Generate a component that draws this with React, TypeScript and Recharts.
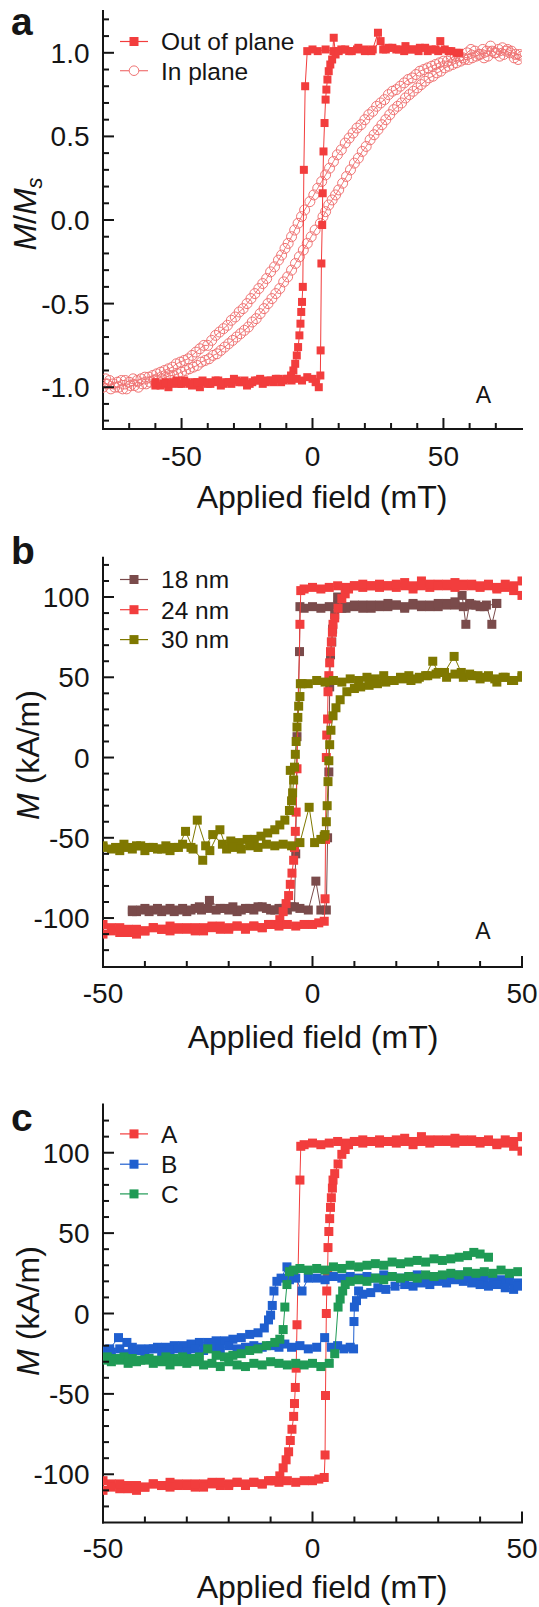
import React from 'react';
import { ScatterChart, Scatter, XAxis, YAxis, ReferenceDot } from 'recharts';

const FONT = '"Liberation Sans", Arial, Helvetica, sans-serif';
const INK = '#151515';
const RED = '#f23d3d';
const PINK = '#f07474';
const BROWN = '#7a4b4b';
const OLIVE = '#7f7800';
const BLUE = '#1f5fcf';
const GREEN = '#1f9a55';

const TICK_FS = 28;
const TITLE_FS = 32;
const LEGEND_FS = 24.5;

type Pt = [number, number];

// ---------- tick values ----------
const aFieldTicks = [-70, -60, -50, -40, -30, -20, -10, 0, 10, 20, 30, 40, 50, 60, 70];
const aFieldLabels = [-50, 0, 50];
const aMTicks = [-1.2, -1.1, -1, -0.9, -0.8, -0.7, -0.6, -0.5, -0.4, -0.3, -0.2, -0.1, 0, 0.1, 0.2, 0.3, 0.4, 0.5, 0.6, 0.7, 0.8, 0.9, 1, 1.1, 1.2];
const aMLabels = [-1, -0.5, 0, 0.5, 1];
const bcFieldTicks = [-50, -40, -30, -20, -10, 0, 10, 20, 30, 40, 50];
const bcFieldLabels = [-50, 0, 50];
const bcMTicks = [-120, -110, -100, -90, -80, -70, -60, -50, -40, -30, -20, -10, 0, 10, 20, 30, 40, 50, 60, 70, 80, 90, 100, 110, 120];
const bcMLabels = [-100, -50, 0, 50, 100];

// ---------- panel a : out of plane (descending then ascending) ----------
const oopDown: Pt[] = [
  [55, 1.0], [52, 1.01], [48.8, 1.07], [47, 1.02], [44, 1.01], [41, 1.03], [38, 1.02], [35, 1.01], [32, 1.02], [29, 1.03],
  [27, 1.02], [25, 1.12], [23, 1.02], [20, 1.01], [17, 1.02], [14, 1.01], [11, 1.02], [8, 1.01], [5, 1.02], [2, 1.01],
  [0, 1.02], [-2, 1.01], [-2.8, 0.8], [-3.3, 0.3], [-3.7, -0.4], [-4.0, -0.49], [-4.3, -0.55], [-4.6, -0.62], [-5.0, -0.69],
  [-5.5, -0.76], [-6.0, -0.81], [-6.6, -0.86], [-7.3, -0.9], [-8.2, -0.93], [-9.5, -0.95], [-11, -0.96], [-13, -0.95],
  [-15, -0.97], [-17, -0.96], [-19, -0.98], [-21, -0.96], [-23, -0.97], [-25, -0.99], [-27, -0.97], [-29, -0.96],
  [-31, -0.98], [-33, -0.97], [-35, -0.99], [-37, -0.96], [-39, -0.98], [-41, -0.97], [-43, -1.0], [-45, -0.97],
  [-47, -0.98], [-49, -0.96], [-51, -0.98], [-53, -0.97], [-55, -1.0], [-57, -0.98], [-60, -0.99],
];
const oopUp: Pt[] = [
  [-60, -0.97], [-58, -0.99], [-56, -0.97], [-54, -0.98], [-52, -0.96], [-50, -0.98], [-48, -0.97], [-46, -0.99],
  [-44, -0.97], [-42, -0.96], [-40, -0.98], [-38, -0.97], [-36, -0.96], [-34, -0.98], [-32, -0.97], [-30, -0.95],
  [-28, -0.97], [-26, -0.96], [-24, -0.98], [-22, -0.96], [-20, -0.95], [-18, -0.97], [-16, -0.96], [-14, -0.95],
  [-12, -0.97], [-10, -0.95], [-8, -0.96], [-6, -0.95], [-4, -0.96], [-2, -0.94], [0, -0.95], [1.2, -0.97], [2.4, -1.0],
  [3.0, -0.93], [3.1, -0.78], [3.4, -0.26], [3.7, -0.03], [3.9, 0.16], [4.2, 0.41], [4.6, 0.58], [5.0, 0.72], [5.3, 0.78],
  [5.7, 0.84], [6.2, 0.89], [6.8, 0.93], [7.5, 0.96], [8.1, 1.09], [8.8, 0.99], [10, 1.01], [12.5, 1.02], [15, 1.01],
  [17.5, 1.03], [20, 1.02], [22.5, 1.01], [26, 1.07], [28, 1.02], [30.5, 1.03], [33, 1.02], [35.5, 1.04], [38, 1.02],
  [40.5, 1.01], [43, 1.03], [45.5, 1.02], [48, 1.01], [50.5, 1.02], [53, 1.01], [56, 1.0],
];
// ---------- panel a : in plane ----------
const ipDown: Pt[] = [
  [80, 0.98], [78.5, 0.96], [77, 0.97], [75.5, 1.0], [74, 1.01], [72.5, 1.03], [71, 1.02], [69.5, 1.0], [68, 1.04],
  [66.5, 1.01], [65, 1.02], [63.5, 0.99], [62, 1.01], [60.5, 1.02], [59, 1.0], [57.5, 0.97], [56, 0.98], [54.5, 0.98],
  [53, 0.97], [51.5, 0.95], [50, 0.95], [48.5, 0.94], [47, 0.93], [45.5, 0.92], [44, 0.91], [42.5, 0.9], [41, 0.89],
  [39.5, 0.87], [38, 0.85], [36.5, 0.84], [35, 0.82], [33.5, 0.8], [32, 0.78], [30.5, 0.77], [29, 0.75], [27.5, 0.72],
  [26, 0.7], [24.5, 0.68], [23, 0.65], [21.5, 0.63], [20, 0.6], [18.5, 0.57], [17, 0.55], [15.5, 0.52], [14, 0.49],
  [12.5, 0.46], [11, 0.42], [9.5, 0.39], [8, 0.35], [6.5, 0.31], [5, 0.27], [3.5, 0.23], [2, 0.19], [0.5, 0.15],
  [-1, 0.11], [-3, 0.06], [-4.2, 0.02], [-5.5, -0.02], [-6.8, -0.06], [-8, -0.1], [-9.3, -0.14], [-10.5, -0.17],
  [-11.8, -0.21], [-13, -0.24], [-14.5, -0.28], [-16, -0.31], [-17.5, -0.35], [-19, -0.38], [-20.5, -0.41], [-22, -0.44],
  [-23.5, -0.47], [-25, -0.5], [-26.5, -0.53], [-28, -0.55], [-29.5, -0.58], [-31, -0.6], [-32.5, -0.63], [-34, -0.65],
  [-35.5, -0.67], [-37, -0.69], [-38.5, -0.72], [-40, -0.75], [-41.5, -0.75], [-43, -0.77], [-44.5, -0.79], [-46, -0.81],
  [-47.5, -0.83], [-49, -0.84], [-50.5, -0.85], [-52, -0.86], [-53.5, -0.88], [-55, -0.89], [-56.5, -0.9], [-58, -0.91],
  [-59.5, -0.92], [-61, -0.93], [-62.5, -0.94], [-64, -0.94], [-65.5, -0.95], [-67, -0.96], [-68.5, -0.95], [-70, -0.97],
  [-71.5, -0.96], [-73, -0.96], [-74.5, -0.97], [-76, -0.98], [-77.5, -0.96], [-79, -0.95],
];
const ipUp: Pt[] = [
  [-80, -1.0], [-78.5, -0.98], [-77, -1.01], [-75.5, -1.0], [-74, -1.0], [-72.5, -1.01], [-71, -1.01], [-69.5, -0.99],
  [-68, -0.99], [-66.5, -1.0], [-65, -0.98], [-63.5, -0.98], [-62, -0.97], [-60.5, -0.96], [-59, -0.96], [-57.5, -0.95],
  [-56, -0.94], [-54.5, -0.93], [-53, -0.93], [-51.5, -0.92], [-50, -0.91], [-48.5, -0.9], [-47, -0.89], [-45.5, -0.88],
  [-44, -0.87], [-42.5, -0.85], [-41, -0.84], [-39.5, -0.83], [-38, -0.81], [-36.5, -0.8], [-35, -0.78], [-33.5, -0.76],
  [-32, -0.74], [-30.5, -0.72], [-29, -0.7], [-27.5, -0.68], [-26, -0.66], [-24.5, -0.64], [-23, -0.61], [-21.5, -0.59],
  [-20, -0.56], [-18.5, -0.53], [-17, -0.5], [-15.5, -0.47], [-14, -0.44], [-12.5, -0.41], [-11, -0.37], [-9.5, -0.34],
  [-8, -0.3], [-6.5, -0.26], [-5, -0.22], [-3.5, -0.18], [-2, -0.14], [-0.5, -0.1], [1, -0.06], [3, -0.02], [4, 0.02],
  [5, 0.05], [6.2, 0.09], [7.5, 0.12], [8.8, 0.15], [10, 0.18], [11.5, 0.22], [13, 0.26], [14.5, 0.3], [16, 0.34],
  [17.5, 0.37], [19, 0.41], [20.5, 0.44], [22, 0.48], [23.5, 0.51], [25, 0.54], [26.5, 0.57], [28, 0.6], [29.5, 0.63],
  [31, 0.66], [32.5, 0.68], [34, 0.7], [35.5, 0.73], [37, 0.75], [38.5, 0.77], [40, 0.79], [41.5, 0.81], [43, 0.83],
  [44.5, 0.85], [46, 0.86], [47.5, 0.88], [49, 0.89], [50.5, 0.91], [52, 0.92], [53.5, 0.93], [55, 0.94], [56.5, 0.95],
  [58, 0.96], [59.5, 0.96], [61, 0.97], [62.5, 0.98], [64, 0.99], [65.5, 0.97], [67, 0.98], [68.5, 1.01], [70, 1.0],
  [71.5, 0.98], [73, 0.99], [74.5, 1.02], [76, 1.01], [77.5, 0.99], [79, 0.99],
];

// ---------- sample A, 24 nm (panel b red, panel c "A") ----------
const a24Down: Pt[] = [
  [50, 101], [48, 104], [46, 106], [44, 105], [42, 107], [40, 106], [38, 107], [36, 108], [34, 106], [32, 107], [30, 108],
  [28, 106], [26, 107], [24, 105], [22, 107], [20, 106], [18, 107], [16, 106], [14, 107], [12, 106], [10, 107], [8, 106],
  [6, 107], [4, 106], [2, 105], [0, 106], [-2, 105], [-2.8, 104], [-3.0, 83], [-3.7, -7], [-3.9, -34], [-4.1, -46],
  [-4.3, -56], [-4.5, -64], [-4.9, -72], [-5.3, -79], [-5.7, -86], [-6.3, -91], [-7.0, -96], [-7.8, -101], [-9, -104],
  [-10.5, -104], [-12, -106], [-14, -105], [-16, -107], [-18, -105], [-20, -106], [-22, -107], [-24, -105], [-26, -106],
  [-28, -108], [-30, -106], [-32, -107], [-34, -105], [-36, -107], [-38, -106], [-40, -108], [-42, -110], [-44, -107],
  [-46, -109], [-48, -106], [-50, -110],
];
const a24Up: Pt[] = [
  [-50, -104], [-48, -108], [-46, -106], [-44, -109], [-42, -107], [-40, -108], [-38, -106], [-36, -107], [-34, -108],
  [-32, -106], [-30, -107], [-28, -106], [-26, -108], [-24, -106], [-22, -105], [-20, -107], [-18, -105], [-16, -106],
  [-14, -105], [-12, -106], [-10, -104], [-8, -105], [-6, -104], [-4, -105], [-2, -104], [0, -104], [1.5, -103],
  [2.8, -102], [3.0, -88], [3.1, -51], [3.3, 0], [3.4, 14], [3.6, 24], [3.7, 41], [3.9, 51], [4.1, 59], [4.3, 66],
  [4.5, 72], [4.75, 78], [4.9, 83], [5.3, 87], [6.1, 93], [7.0, 99], [7.8, 102], [8.6, 105], [10, 107], [12, 108],
  [14, 107], [16, 108], [18, 107], [20, 108], [22, 109], [24, 107], [26, 110], [28, 108], [30, 107], [32, 108], [34, 109],
  [36, 107], [38, 108], [40, 107], [42, 108], [44, 106], [46, 108], [48, 107], [50, 110],
];
// ---------- panel b : 18 nm ----------
const b18Down: Pt[] = [
  [44, 96], [42.8, 83], [41.5, 95], [40, 94], [38, 95], [36, 94], [34, 95], [32, 96], [30, 94], [28, 95], [26, 94],
  [24, 95], [22, 93], [20, 95], [18, 94], [16, 95], [14, 93], [12, 95], [10, 94], [8, 93], [6, 95], [4, 94], [2, 93],
  [0, 94], [-2, 93], [-3.0, 94], [-3.1, 66], [-3.7, 13], [-4.0, -60], [-4.3, -93], [-6, -95], [-8, -94], [-10, -95],
  [-12, -93], [-14, -95], [-16, -94], [-18, -96], [-20, -95], [-22, -94], [-24.6, -89], [-26.5, -95], [-28, -94],
  [-30, -96], [-32, -95], [-34, -94], [-36, -96], [-38, -95], [-40, -94], [-42, -96], [-43, -95],
];
const b18Up: Pt[] = [
  [-43, -96], [-41, -95], [-39, -96], [-37, -94], [-35, -95], [-33, -96], [-31, -94], [-29, -95], [-27, -93], [-25, -94],
  [-23, -95], [-21, -94], [-19, -93], [-17, -95], [-15, -94], [-13, -93], [-11, -94], [-9, -95], [-7, -94], [-5, -93],
  [-3, -94], [-1, -95], [0.8, -77], [2, -95], [3.3, -95], [3.6, -50], [3.9, -9], [4.1, 44], [4.3, 64], [4.6, 72],
  [4.8, 80], [5.3, 89], [6, 100], [7, 93], [8, 94], [10, 95], [12, 93], [14, 95], [16, 94], [18, 96], [20, 95], [22, 94],
  [24, 96], [26, 95], [28, 94], [30, 96], [32, 95], [34, 97], [35.7, 101], [36.6, 83], [37.5, 96], [39, 95], [41, 94], [43.9, 96],
];
// ---------- panel b : 30 nm ----------
const b30Down: Pt[] = [
  [50, 50], [48, 48], [46, 50], [44, 47], [42, 51], [40, 49], [38, 51], [36, 50], [34, 52], [32, 50], [30, 53], [28.7, 60],
  [27, 51], [25, 49], [23, 51], [21, 50], [19, 48], [17, 51], [15, 49], [13, 50], [11, 48], [9, 49], [7, 47], [5, 48],
  [3, 47], [1, 48], [-1, 46], [-2.5, 46], [-2.9, 46], [-3.0, 38], [-3.3, 32], [-3.5, 25], [-3.7, 19], [-3.9, 10],
  [-4.1, 2], [-4.3, -6], [-4.5, -14], [-4.75, -22], [-5.0, -27], [-5.3, -8], [-5.5, -33], [-6.6, -39], [-7.8, -42],
  [-9, -45], [-10.7, -47], [-12.3, -49], [-13.9, -51], [-15.6, -51], [-17.5, -53], [-19.5, -52], [-21.5, -54],
  [-23.8, -48], [-25.5, -55], [-27.5, -39], [-29, -56], [-31, -54], [-33, -56], [-35, -55], [-37, -57], [-39, -56],
  [-41, -55], [-43, -57], [-45, -54], [-47, -56], [-50, -56],
];
const b30Up: Pt[] = [
  [-50, -55], [-48, -57], [-46, -58], [-44, -56], [-42, -55], [-40, -58], [-38, -56], [-36, -57], [-34, -58], [-32, -56],
  [-30.3, -46], [-28.5, -57], [-26.2, -64], [-24.5, -58], [-22.1, -45], [-20.5, -57], [-19, -56], [-17, -57], [-15, -55],
  [-13, -56], [-11, -54], [-9, -55], [-7, -54], [-5, -55], [-3, -53], [-0.8, -31], [0.5, -53], [2, -51], [2.8, -49],
  [3.0, -48], [3.3, -40], [3.5, -30], [3.7, -15], [3.9, -2], [4.1, 8], [4.4, 17], [4.9, 26], [5.6, 31], [6.6, 36],
  [8.2, 41], [10, 43], [11.5, 44], [13.5, 45], [15.5, 46], [17.5, 47], [19.5, 48], [21.5, 49], [23.5, 48], [25.5, 50],
  [27.5, 51], [29.5, 52], [31.5, 53], [33.8, 63], [35.5, 53], [37.5, 52], [39.5, 51], [41.5, 50], [43.5, 49], [45.5, 50],
  [47.5, 48], [50, 51],
];
// ---------- panel c : B ----------
const sBDown: Pt[] = [
  [49, 19], [47, 20], [45, 21], [43, 22], [41, 21], [39, 23], [37, 22], [35, 24], [33, 23], [31, 22], [29, 23], [27, 22],
  [25, 24], [23, 23], [21, 22], [19, 23], [17, 24], [15, 22], [13, 23], [11, 22], [9, 23], [7, 22], [5, 23], [3, 21],
  [1, 22], [-1, 22], [-2.5, 14], [-4, 22], [-5.5, 21], [-6.1, 29], [-7.5, 22], [-8.5, 20], [-9.2, 14], [-9.6, 5],
  [-10, -1], [-10.5, -4], [-11.5, -9], [-13, -12], [-15, -13], [-17, -15], [-19, -16], [-21, -17], [-23, -17], [-25, -18],
  [-27, -18], [-29, -19], [-31, -20], [-33, -20], [-35, -21], [-37, -21], [-39, -22], [-41, -22], [-43, -21], [-44.3, -18],
  [-46.3, -15], [-48.4, -22], [-50, -25],
];
const sBUp: Pt[] = [
  [-50, -23], [-48, -24], [-46, -22], [-44, -25], [-42, -23], [-40, -24], [-38, -22], [-36, -24], [-34, -23], [-32, -22],
  [-30, -24], [-28, -22], [-26, -23], [-24, -21], [-22, -22], [-20, -20], [-18, -22], [-16, -21], [-14, -20], [-12, -21],
  [-10, -20], [-8, -21], [-6.6, -19], [-5, -21], [-3, -20], [-1, -22], [1, -21], [2.9, -15], [4.5, -21], [6, -20],
  [7.5, -22], [9, -21], [9.8, -22], [9.9, -5], [10, 4], [10.5, 8], [11, 14], [12, 12], [13.9, 13], [15.6, 16], [17.5, 15],
  [19.7, 17], [22, 18], [24, 17], [26, 19], [28, 18], [30, 20], [32, 19], [34, 21], [36, 20], [38, 19], [40, 18], [42, 17],
  [44, 18], [46, 16], [48, 15], [49, 17],
];
// ---------- panel c : C ----------
const sCDown: Pt[] = [
  [42, 35], [40, 37], [38.5, 38], [37, 36], [35, 35], [33, 34], [31, 33], [29, 34], [27, 32], [25, 33], [23, 32], [21, 31],
  [19, 32], [17, 30], [15, 31], [13, 30], [11, 29], [9, 30], [7, 28], [5, 29], [3, 27], [1, 28], [-1, 27], [-3, 28],
  [-4.5, 27], [-5.5, 26], [-6.1, 18], [-6.6, 4], [-7.0, -10], [-7.8, -16], [-9, -18], [-11, -20], [-13, -22], [-15, -23],
  [-17, -25], [-19, -26], [-21, -27], [-23, -26], [-25, -22], [-27, -27], [-29, -28], [-31, -27], [-33, -28], [-35, -27],
  [-37, -29], [-39, -28], [-41, -29], [-43, -28], [-45, -27], [-47, -28], [-49, -27], [-50, -29],
];
const sCUp: Pt[] = [
  [-50, -28], [-48, -30], [-46, -29], [-44, -31], [-42, -30], [-40, -29], [-38, -31], [-36, -30], [-34, -32], [-32, -30],
  [-30, -31], [-28, -30], [-26, -32], [-24, -31], [-22, -33], [-20, -30], [-18, -32], [-16, -33], [-14, -31], [-12, -32],
  [-10, -30], [-8, -31], [-6, -32], [-4, -31], [-2, -32], [0, -31], [2, -33], [4, -31], [5.3, -25], [6.1, 4], [6.6, 9],
  [7.2, 14], [7.8, 18], [9, 20], [11, 21], [13, 20], [15, 22], [17, 21], [19, 23], [21, 22], [23, 23], [25, 22], [27, 24],
  [29, 23], [31, 24], [33, 25], [35, 24], [37, 26], [39, 25], [41, 26], [43, 25], [45, 27], [47, 25], [49, 26],
];

// ---------- helpers ----------
const W = 539;
const PLOT_LEFT = 103;
const PLOT_RIGHT = 522;
const loop = (down: Pt[], up: Pt[]) => [...down, ...up].map(([x, y]) => ({ x, y }));
const near = (list: number[], v: number) => list.some((m) => Math.abs(m - v) < 1e-6);
const fmtInt = (v: number) => String(v);
const fmtOne = (v: number) => v.toFixed(1);

type Side = 'left' | 'right' | 'top' | 'bottom';
function makeTick(side: Side, majors: number[], gap: number, fmt: ((v: number) => string) | null) {
  return (props: any) => {
    const { x, y, payload } = props;
    const v = payload.value as number;
    const major = near(majors, v);
    const len = major ? 11 : 6;
    const ls = { stroke: INK, strokeWidth: 2 };
    const ts = { fontFamily: FONT, fontSize: TICK_FS, fill: INK };
    if (side === 'left') {
      const x0 = x + gap;
      return (
        <g>
          <line x1={x0} y1={y} x2={x0 + len} y2={y} {...ls} />
          {fmt && major ? <text x={x} y={y + 10} textAnchor="end" {...ts}>{fmt(v)}</text> : null}
        </g>
      );
    }
    if (side === 'right') {
      return <line x1={x} y1={y} x2={x - len} y2={y} {...ls} />;
    }
    if (side === 'top') {
      return <line x1={x} y1={y} x2={x} y2={y + len} {...ls} />;
    }
    const y0 = y - gap;
    return (
      <g>
        <line x1={x} y1={y0} x2={x} y2={y0 - len} {...ls} />
        {fmt && major ? <text x={x} y={y} textAnchor="middle" {...ts}>{fmt(v)}</text> : null}
      </g>
    );
  };
}

const squareShape = (color: string, s: number) => (p: any) =>
  p.cx == null ? <g /> : <rect x={p.cx - s / 2} y={p.cy - s / 2} width={s} height={s} fill={color} />;
const circleShape = (color: string, r: number) => (p: any) =>
  p.cx == null ? <g /> : <circle cx={p.cx} cy={p.cy} r={r} fill="none" stroke={color} strokeWidth={1} />;

interface SeriesDef {
  name: string;
  data: { x: number; y: number }[];
  color: string;
  marker: 'square' | 'circle';
  size: number;
}

interface PanelProps {
  top: number;
  height: number;
  plotTop: number;
  plotBottom: number;
  xDomain: [number, number];
  yDomain: [number, number];
  xTicks: number[];
  xMajors: number[];
  yTicks: number[];
  yMajors: number[];
  yFmt: (v: number) => string;
  xGap: number;
  series: SeriesDef[];
  legendOrder: SeriesDef[];
  legendYs: number[];
  sample?: { x: number; y: number };
  letter: string;
  letterBaseline: number;
  yTitle: React.ReactNode;
  yTitleX: number;
  yTitleY: number;
  xTitleX: number;
  xTitleBaseline: number;
}

const frameLine = { stroke: INK, strokeWidth: 2, strokeLinecap: 'square' as const };

function Panel(p: PanelProps) {
  return (
    <div style={{ position: 'absolute', left: 0, top: p.top, width: W, height: p.height }}>
      <ScatterChart
        width={W}
        height={p.height}
        margin={{ top: p.plotTop, right: W - PLOT_RIGHT, bottom: 0, left: 0 }}
      >
        <XAxis
          xAxisId={0}
          dataKey="x"
          type="number"
          domain={p.xDomain}
          allowDataOverflow
          ticks={p.xTicks}
          interval={0}
          height={p.height - p.plotBottom}
          tickSize={0}
          tickMargin={p.xGap}
          tickLine={false}
          axisLine={frameLine}
          tick={makeTick('bottom', p.xMajors, p.xGap, fmtInt)}
        />
        <XAxis
          xAxisId="top"
          orientation="top"
          type="number"
          domain={p.xDomain}
          allowDataOverflow
          ticks={p.xTicks}
          interval={0}
          height={0}
          tickSize={0}
          tickMargin={0}
          tickLine={false}
          axisLine={frameLine}
          tick={makeTick('top', p.xMajors, 0, null)}
        />
        <YAxis
          yAxisId={0}
          dataKey="y"
          type="number"
          domain={p.yDomain}
          allowDataOverflow
          ticks={p.yTicks}
          interval={0}
          width={PLOT_LEFT}
          tickSize={0}
          tickMargin={13.5}
          tickLine={false}
          axisLine={frameLine}
          tick={makeTick('left', p.yMajors, 13.5, p.yFmt)}
        />
        <YAxis
          yAxisId="right"
          orientation="right"
          type="number"
          domain={p.yDomain}
          allowDataOverflow
          ticks={p.yTicks}
          interval={0}
          width={0}
          tickSize={0}
          tickMargin={0}
          tickLine={false}
          axisLine={frameLine}
          tick={makeTick('right', p.yMajors, 0, null)}
        />
        {p.series.map((s) => (
          <Scatter
            key={s.name}
            name={s.name}
            data={s.data}
            fill={s.color}
            line={{ stroke: s.color, strokeWidth: 1 }}
            lineType="joint"
            shape={s.marker === 'square' ? squareShape(s.color, s.size) : circleShape(s.color, s.size)}
            isAnimationActive={false}
          />
        ))}
        {p.sample ? (
          <ReferenceDot
            x={p.sample.x}
            y={p.sample.y}
            r={1}
            fill="none"
            stroke="none"
            label={{ value: 'A', position: 'center', fontSize: 23, fill: INK, fontFamily: FONT }}
          />
        ) : null}
      </ScatterChart>
      <svg
        width={W}
        height={p.height}
        style={{ position: 'absolute', left: 0, top: 0, pointerEvents: 'none', overflow: 'visible' }}
      >
        <text x={11} y={p.letterBaseline} fontFamily={FONT} fontWeight="bold" fontSize={39} fill={INK}>
          {p.letter}
        </text>
        <text
          transform={`translate(${p.yTitleX}, ${p.yTitleY}) rotate(-90)`}
          x={0}
          y={0}
          textAnchor="middle"
          fontFamily={FONT}
          fontSize={TITLE_FS}
          fill={INK}
        >
          {p.yTitle}
        </text>
        <text x={p.xTitleX} y={p.xTitleBaseline} textAnchor="middle" fontFamily={FONT} fontSize={TITLE_FS} fill={INK}>
          Applied field (mT)
        </text>
        {p.legendOrder.map((s, i) => {
          const cy = p.legendYs[i];
          return (
            <g key={s.name}>
              <line x1={120} x2={148} y1={cy} y2={cy} stroke={s.color} strokeWidth={1.2} />
              {s.marker === 'square' ? (
                <rect x={134 - 4.5} y={cy - 4.5} width={9} height={9} fill={s.color} />
              ) : (
                <circle cx={134} cy={cy} r={4.8} fill="#fff" stroke={s.color} strokeWidth={1} />
              )}
              <text x={161} y={cy + 8.8} fontFamily={FONT} fontSize={LEGEND_FS} fill={INK}>
                {s.name}
              </text>
            </g>
          );
        })}
      </svg>
    </div>
  );
}

const seriesA: SeriesDef[] = [
  { name: 'In plane', data: loop(ipDown, ipUp), color: PINK, marker: 'circle', size: 5 },
  { name: 'Out of plane', data: loop(oopDown, oopUp), color: RED, marker: 'square', size: 8 },
];
const seriesB: SeriesDef[] = [
  { name: '18 nm', data: loop(b18Down, b18Up), color: BROWN, marker: 'square', size: 9 },
  { name: '24 nm', data: loop(a24Down, a24Up), color: RED, marker: 'square', size: 9 },
  { name: '30 nm', data: loop(b30Down, b30Up), color: OLIVE, marker: 'square', size: 9 },
];
const seriesC: SeriesDef[] = [
  { name: 'A', data: loop(a24Down, a24Up), color: RED, marker: 'square', size: 9 },
  { name: 'B', data: loop(sBDown, sBUp), color: BLUE, marker: 'square', size: 9 },
  { name: 'C', data: loop(sCDown, sCUp), color: GREEN, marker: 'square', size: 9 },
];

const mTitle = (
  <>
    <tspan fontStyle="italic">M</tspan>
    <tspan> (kA/m)</tspan>
  </>
);
const msTitle = (
  <>
    <tspan fontStyle="italic">M</tspan>
    <tspan>/</tspan>
    <tspan fontStyle="italic">M</tspan>
    <tspan fontStyle="italic" fontSize={22} dy={6}>s</tspan>
  </>
);

export default function App() {
  return (
    <div style={{ position: 'absolute', left: 0, top: 0, width: W, height: 1607, background: '#fff' }}>
      <Panel
        top={0}
        height={530}
        plotTop={11}
        plotBottom={429}
        xDomain={[-80, 80]}
        yDomain={[-1.25, 1.25]}
        xTicks={aFieldTicks}
        xMajors={aFieldLabels}
        yTicks={aMTicks}
        yMajors={aMLabels}
        yFmt={fmtOne}
        xGap={37.4}
        series={seriesA}
        legendOrder={[seriesA[1], seriesA[0]]}
        legendYs={[41.5, 70.7]}
        sample={{ x: 65.3, y: -1.045 }}
        letter="a"
        letterBaseline={34.6}
        yTitle={msTitle}
        yTitleX={36}
        yTitleY={214}
        xTitleX={322}
        xTitleBaseline={507.5}
      />
      <Panel
        top={520}
        height={550}
        plotTop={37.7}
        plotBottom={447}
        xDomain={[-50, 50]}
        yDomain={[-130.5, 124.5]}
        xTicks={bcFieldTicks}
        xMajors={bcFieldLabels}
        yTicks={bcMTicks}
        yMajors={bcMLabels}
        yFmt={fmtInt}
        xGap={36.2}
        series={seriesB}
        legendOrder={seriesB}
        legendYs={[59.5, 89.7, 119.6]}
        sample={{ x: 40.7, y: -108 }}
        letter="b"
        letterBaseline={44}
        yTitle={mTitle}
        yTitleX={39}
        yTitleY={235}
        xTitleX={313}
        xTitleBaseline={527.5}
      />
      <Panel
        top={1070}
        height={537}
        plotTop={34.5}
        plotBottom={452.5}
        xDomain={[-50, 50]}
        yDomain={[-130, 130]}
        xTicks={bcFieldTicks}
        xMajors={bcFieldLabels}
        yTicks={bcMTicks}
        yMajors={bcMLabels}
        yFmt={fmtInt}
        xGap={35.5}
        series={seriesC}
        legendOrder={seriesC}
        legendYs={[63.9, 94.2, 123.9]}
        letter="c"
        letterBaseline={61}
        yTitle={mTitle}
        yTitleX={39}
        yTitleY={241}
        xTitleX={322}
        xTitleBaseline={528}
      />
    </div>
  );
}
